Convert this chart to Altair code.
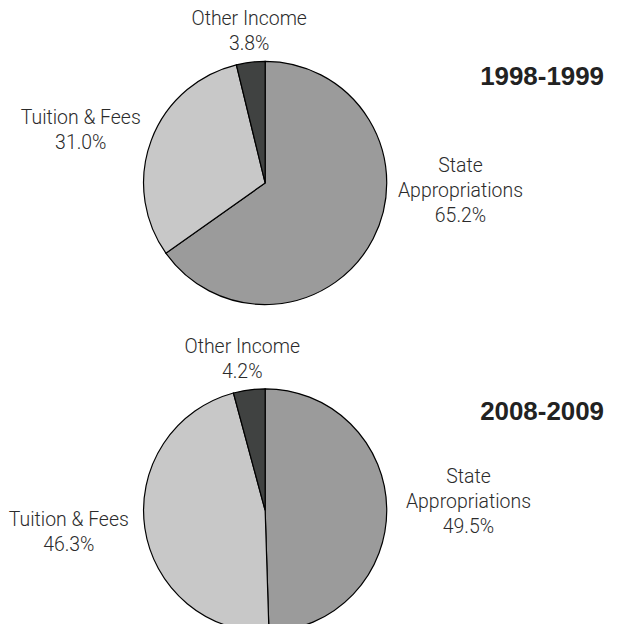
import altair as alt
import pandas as pd

# ---- data ----
years = ["1998-1999", "2008-2009"]
categories = ["State Appropriations", "Tuition & Fees", "Other Income"]
label_names = ["State\nAppropriations", "Tuition & Fees", "Other Income"]
share_1998 = [65.2, 31.0, 3.8]
share_2008 = [49.5, 46.3, 4.2]
colors = ["#9b9b9b", "#c8c8c8", "#404241"]

rows = []
for year, shares in zip(years, [share_1998, share_2008]):
    for i, (cat, name, v) in enumerate(zip(categories, label_names, shares)):
        rows.append({"year": year, "category": cat, "order": i, "share": v,
                     "label": f"{name}\n{v:.1f}%"})
df = pd.DataFrame(rows)

# ---- layout (chart pixel coordinates; y = centre of first text line) ----
pie_centers = {"1998-1999": (256, 173.5), "2008-2009": (256, 502)}
label_pos = {
    "1998-1999": {"State Appropriations": (452, 157),
                  "Tuition & Fees": (71, 108),
                  "Other Income": (240, 9)},
    "2008-2009": {"State Appropriations": (460, 469),
                  "Tuition & Fees": (59, 512),
                  "Other Income": (233, 338)},
}
title_y = {"1998-1999": 67.5, "2008-2009": 403}

base = alt.Chart(df)
layers = []
for year in years:
    cx, cy = pie_centers[year]
    sub = base.transform_filter(alt.datum.year == year)
    layers.append(
        sub.mark_arc(x=cx, y=cy, outerRadius=122, stroke="black",
                     strokeWidth=1.2).encode(
            theta=alt.Theta("share:Q", stack=True),
            color=alt.Color("category:N",
                            scale=alt.Scale(domain=categories, range=colors),
                            legend=None),
            order=alt.Order("order:Q"),
        )
    )
    for cat in categories:
        lx, ly = label_pos[year][cat]
        layers.append(
            sub.transform_filter(alt.datum.category == cat).mark_text(
                x=lx, y=ly, align="center", baseline="middle",
                lineBreak="\n", lineHeight=25, fontSize=19.5,
                font="Roboto", fontWeight=300, color="#2b2b2b",
            ).encode(text="label:N")
        )
    layers.append(
        alt.Chart(pd.DataFrame({"title": [year]})).mark_text(
            x=596, y=title_y[year], align="right", baseline="middle",
            fontSize=26, font="Liberation Sans", fontWeight="bold",
            color="#222222",
        ).encode(text="title:N")
    )

chart = alt.layer(*layers).properties(
    width=602, height=608, padding=0
).configure_view(stroke=None)

chart.save("out.html", embed_options={"renderer": "svg", "actions": False})
